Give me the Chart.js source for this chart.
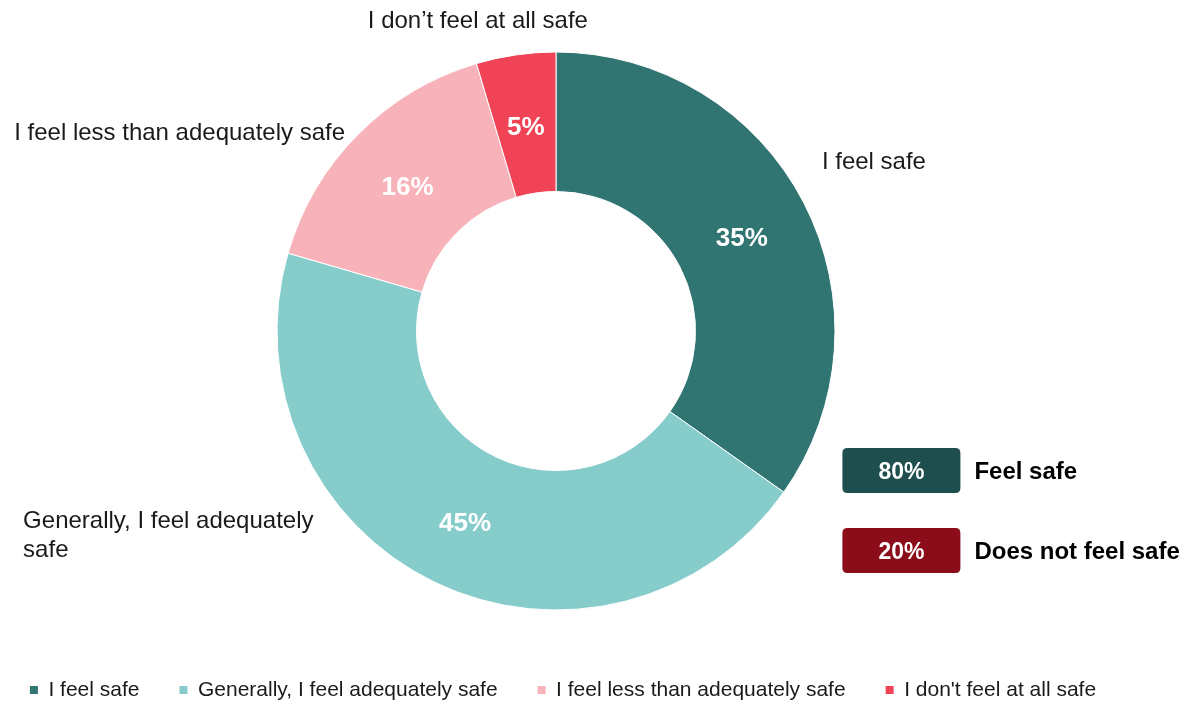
<!DOCTYPE html>
<html>
<head>
<meta charset="utf-8">
<script src="https://cdn.jsdelivr.net/npm/chart.js@4.4.1/dist/chart.umd.min.js"></script>
<style>
html,body{margin:0;padding:0;background:#fff;}
#wrap{position:relative;width:1187px;height:701px;}
</style>
</head>
<body>
<div id="wrap"><canvas id="c" width="1187" height="701"></canvas></div>
<script>
// ---- data ----
const categories = ['I feel safe', 'Generally, I feel adequately safe', 'I feel less than adequately safe', "I don't feel at all safe"];
const calloutLabels = [['I feel safe'], ['Generally, I feel adequately', 'safe'], ['I feel less than adequately safe'], ['I don\u2019t feel at all safe']];
const values = [34.8, 44.7, 15.9, 4.6];
const valueLabels = ['35%', '45%', '16%', '5%'];
const groupLabels = ['Feel safe', 'Does not feel safe'];
const groupValueLabels = ['80%', '20%'];

// ---- style ----
const colors = ['#317572', '#86CCCB', '#F8B3BA', '#F04356'];
const groupColors = ['#1F4E4E', '#8B0D1A'];
const FONT = '"Liberation Sans", Arial, Helvetica, sans-serif';
// callout placement in units of outer radius relative to the doughnut centre
const calloutPlacement = [
  {dx: 0.953, dy: -0.606, align: 'left'},
  {dx: -1.910, dy: 0.733, align: 'left'},
  {dx: -0.756, dy: -0.710, align: 'right'},
  {dx: -0.280, dy: -1.108, align: 'center'}
];
const groupPlacement = [{dx: 1.238, dy: 0.500}, {dx: 1.238, dy: 0.787}];
const LEGEND_SHIFT_X = 27;
const INNER_LABEL_DY = 4;
const GROUP_TEXT_DY = 2;

function roundRect(ctx, x, y, w, h, r) {
  ctx.beginPath();
  ctx.moveTo(x + r, y);
  ctx.lineTo(x + w - r, y); ctx.quadraticCurveTo(x + w, y, x + w, y + r);
  ctx.lineTo(x + w, y + h - r); ctx.quadraticCurveTo(x + w, y + h, x + w - r, y + h);
  ctx.lineTo(x + r, y + h); ctx.quadraticCurveTo(x, y + h, x, y + h - r);
  ctx.lineTo(x, y + r); ctx.quadraticCurveTo(x, y, x + r, y);
  ctx.closePath();
}

const legendShift = {
  id: 'legendShift',
  afterLayout(chart) {
    if (chart.legend) {
      chart.legend.left += LEGEND_SHIFT_X;
      chart.legend.right += LEGEND_SHIFT_X;
    }
  }
};

const labelPlugin = {
  id: 'labelPlugin',
  afterDatasetsDraw(chart) {
    const ctx = chart.ctx;
    const meta = chart.getDatasetMeta(0);
    if (!meta.data.length) return;
    const arc0 = meta.data[0];
    const cx = arc0.x, cy = arc0.y, R = arc0.outerRadius;
    ctx.save();
    // inner value labels
    ctx.font = 'bold 26px ' + FONT;
    ctx.fillStyle = '#ffffff';
    ctx.textAlign = 'center';
    ctx.textBaseline = 'middle';
    meta.data.forEach((arc, i) => {
      const p = arc.tooltipPosition();
      ctx.fillText(valueLabels[i], p.x, p.y + INNER_LABEL_DY);
    });
    // callout labels
    ctx.font = '24px ' + FONT;
    ctx.fillStyle = '#1a1a1a';
    calloutLabels.forEach((lines, i) => {
      const pl = calloutPlacement[i];
      ctx.textAlign = pl.align;
      const lh = 29;
      const x = cx + pl.dx * R;
      const y0 = cy + pl.dy * R - (lines.length - 1) * lh / 2;
      lines.forEach((t, k) => ctx.fillText(t, x, y0 + k * lh));
    });
    // group boxes
    groupLabels.forEach((g, i) => {
      const pl = groupPlacement[i];
      const x = cx + pl.dx * R, y = cy + pl.dy * R;
      const w = 118, h = 45;
      ctx.fillStyle = groupColors[i];
      roundRect(ctx, x - w / 2, y - h / 2, w, h, 5);
      ctx.fill();
      ctx.fillStyle = '#ffffff';
      ctx.font = 'bold 23px ' + FONT;
      ctx.textAlign = 'center';
      ctx.fillText(groupValueLabels[i], x, y + GROUP_TEXT_DY);
      ctx.fillStyle = '#000000';
      ctx.font = 'bold 24px ' + FONT;
      ctx.textAlign = 'left';
      ctx.fillText(g, x + w / 2 + 14, y + GROUP_TEXT_DY);
    });
    ctx.restore();
  }
};

new Chart(document.getElementById('c'), {
  type: 'doughnut',
  data: {
    labels: categories,
    datasets: [{
      data: values,
      backgroundColor: colors,
      borderColor: '#ffffff',
      borderWidth: 1,
      hoverOffset: 0
    }]
  },
  options: {
    responsive: false,
    animation: false,
    radius: 279,
    cutout: '50%',
    layout: {padding: {left: -40, right: 75, top: 22.5, bottom: -9.5}},
    plugins: {
      tooltip: {enabled: false},
      legend: {
        position: 'bottom',
        labels: {
          boxWidth: 8,
          boxHeight: 8,
          padding: 40,
          color: '#1a1a1a',
          font: {family: FONT, size: 21},
          generateLabels(chart) {
            const ds = chart.data.datasets[0];
            return chart.data.labels.map((l, i) => ({
              text: l, fillStyle: ds.backgroundColor[i], strokeStyle: ds.backgroundColor[i],
              lineWidth: 0, hidden: false, index: i, fontColor: '#1a1a1a'
            }));
          }
        }
      }
    }
  },
  plugins: [legendShift, labelPlugin]
});
</script>
</body>
</html>
